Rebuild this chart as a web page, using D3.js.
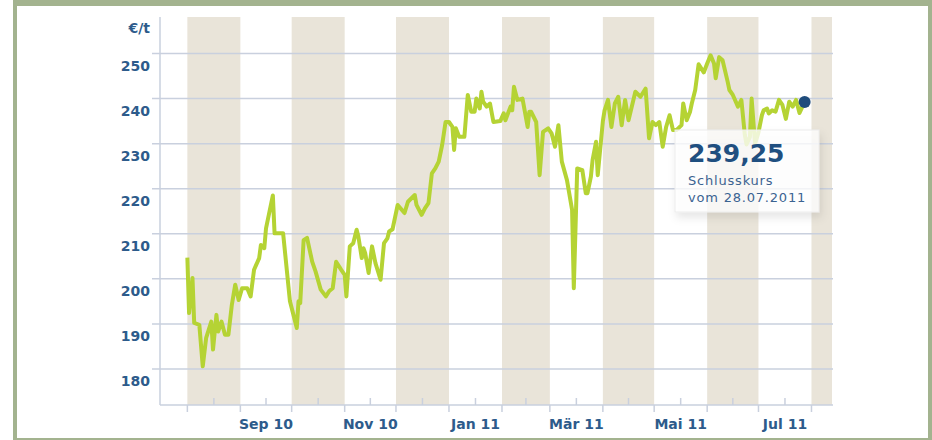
<!DOCTYPE html>
<html>
<head>
<meta charset="utf-8">
<script src="https://cdn.jsdelivr.net/npm/d3@7"></script>
<style>
  body { margin: 0; background: #fff; }
  svg { display: block; font-family: "DejaVu Sans", Verdana, sans-serif; }
</style>
</head>
<body>
<div id="chart"></div>
<script>
// closing prices
var dates = [
  "2010-08-01","2010-08-02","2010-08-04","2010-08-05","2010-08-08","2010-08-10","2010-08-12","2010-08-15",
  "2010-08-16","2010-08-18","2010-08-19","2010-08-21","2010-08-23","2010-08-25","2010-08-27","2010-08-29",
  "2010-08-31","2010-09-02","2010-09-05","2010-09-07","2010-09-09","2010-09-12","2010-09-13","2010-09-15",
  "2010-09-16","2010-09-20","2010-09-21","2010-09-26","2010-09-30","2010-10-04","2010-10-05","2010-10-06",
  "2010-10-08","2010-10-10","2010-10-13","2010-10-15","2010-10-18","2010-10-21","2010-10-23","2010-10-25",
  "2010-10-27","2010-10-30","2010-11-01","2010-11-02","2010-11-04","2010-11-06","2010-11-08","2010-11-09",
  "2010-11-11","2010-11-12","2010-11-13","2010-11-15","2010-11-17","2010-11-19","2010-11-22","2010-11-24",
  "2010-11-26","2010-11-27","2010-11-29","2010-12-02","2010-12-06","2010-12-08","2010-12-12","2010-12-13",
  "2010-12-16","2010-12-18","2010-12-20","2010-12-22","2010-12-24","2010-12-26","2010-12-28","2010-12-30",
  "2011-01-01","2011-01-03","2011-01-04","2011-01-05","2011-01-07","2011-01-10","2011-01-12","2011-01-14",
  "2011-01-16","2011-01-17","2011-01-19","2011-01-20","2011-01-21","2011-01-23","2011-01-25","2011-01-27",
  "2011-01-31","2011-02-02","2011-02-03","2011-02-06","2011-02-07","2011-02-08","2011-02-10","2011-02-13",
  "2011-02-16","2011-02-17","2011-02-18","2011-02-21","2011-02-23","2011-02-25","2011-02-28","2011-03-02",
  "2011-03-04","2011-03-06","2011-03-08","2011-03-11","2011-03-14","2011-03-15","2011-03-17","2011-03-20",
  "2011-03-22","2011-03-23","2011-03-25","2011-03-26","2011-03-28","2011-03-29","2011-04-01","2011-04-02",
  "2011-04-04","2011-04-06","2011-04-08","2011-04-10","2011-04-12","2011-04-14","2011-04-16","2011-04-20",
  "2011-04-23","2011-04-26","2011-04-28","2011-04-30","2011-05-02","2011-05-04","2011-05-06","2011-05-08",
  "2011-05-10","2011-05-12","2011-05-14","2011-05-17","2011-05-18","2011-05-20","2011-05-22","2011-05-23",
  "2011-05-25","2011-05-27","2011-05-30","2011-06-01","2011-06-03","2011-06-05","2011-06-06","2011-06-08",
  "2011-06-10","2011-06-13","2011-06-14","2011-06-16","2011-06-19","2011-06-21","2011-06-23","2011-06-24",
  "2011-06-26","2011-06-27","2011-06-29","2011-07-01","2011-07-03","2011-07-04","2011-07-06","2011-07-07",
  "2011-07-09","2011-07-11","2011-07-13","2011-07-15","2011-07-17","2011-07-19","2011-07-21","2011-07-23",
  "2011-07-25","2011-07-28"
];
var prices = [
  204.7,192.4,200.2,190.2,189.8,180.6,186.9,190.5,
  184.3,192.0,188.3,190.5,187.6,187.6,194.2,198.7,
  195.3,197.9,197.9,196.1,202.0,204.6,207.5,206.8,
  211.2,218.5,210.1,210.1,195.0,189.1,195.0,194.6,
  208.6,209.1,203.8,201.6,197.6,196.1,197.3,197.9,
  203.8,202.0,200.9,196.1,207.2,207.9,210.9,209.4,
  204.6,206.8,205.7,201.3,207.2,203.5,199.8,207.9,
  209.0,210.5,211.0,216.4,214.6,217.1,218.6,216.4,
  214.2,215.7,216.8,223.4,224.5,226.0,229.7,234.8,
  234.8,233.7,228.6,233.4,231.5,231.5,240.8,237.1,
  237.1,240.0,237.8,241.5,239.3,238.2,238.9,234.8,
  235.0,236.7,235.2,238.2,237.4,242.6,239.7,240.0,
  233.7,237.1,237.1,234.8,223.0,232.6,233.4,232.3,
  229.3,234.1,226.0,221.9,215.3,197.9,224.5,224.1,
  219.0,219.0,222.7,226.4,230.4,223.0,235.0,237.4,
  239.7,233.7,238.9,240.4,234.1,239.7,235.2,241.5,
  240.4,242.2,231.2,234.8,234.1,234.8,229.3,233.7,
  236.3,233.0,233.0,234.1,238.9,235.2,237.1,238.9,
  241.9,247.6,245.8,247.8,249.6,247.8,244.5,249.2,
  248.5,243.7,241.9,240.8,238.2,239.7,232.0,229.8,
  231.5,240.0,230.0,232.5,236.3,237.4,237.8,236.7,
  237.4,237.1,239.7,238.6,235.5,239.3,238.2,239.7,
  236.8,239.25
];

var yTicks = [180, 190, 200, 210, 220, 230, 240, 250];
var monthStarts = [
  "2010-08-01","2010-09-01","2010-10-01","2010-11-01","2010-12-01","2011-01-01",
  "2011-02-01","2011-03-01","2011-04-01","2011-05-01","2011-06-01","2011-07-01",
  "2011-08-01","2011-09-01"
];
var monthLabels = ["", "Sep 10", "", "Nov 10", "", "Jan 11", "", "Mär 11", "", "Mai 11", "", "Jul 11", "", ""];
var unit = "€/t";
var lastValue = "239,25";
var lastText = ["Schlusskurs", "vom 28.07.2011"];

var svgWidth = 932;
var svgHeight = 440;

var plot = { left: 160, right: 832, top: 17, bottom: 405 };

var parse = d3.utcParse("%Y-%m-%d");
var data = dates.map(function(d, i) { return { date: parse(d), value: prices[i] }; });
var months = monthStarts.map(parse);

var svg = d3.select("#chart")
  .append("svg")
  .attr("width", svgWidth)
  .attr("height", svgHeight);

var defs = svg.append("defs");
var shadow = defs.append("filter")
  .attr("id", "shadow")
  .attr("x", "-20%").attr("y", "-20%")
  .attr("width", "150%").attr("height", "160%");
shadow.append("feDropShadow")
  .attr("dx", 2).attr("dy", 5)
  .attr("stdDeviation", 4)
  .attr("flood-color", "#000")
  .attr("flood-opacity", 0.12);

// scales
var xScale = d3.scaleUtc()
  .domain([parse("2010-07-16"), parse("2011-08-13")])
  .range([plot.left, plot.right]);

var yScale = d3.scaleLinear()
  .domain([172, 258.1])
  .range([plot.bottom, plot.top]);

var gridColor = "#c9d0de";
var textColor = "#2d5b8b";

// alternating month bands
var bands = [];
for (var i = 0; i < months.length - 1; i += 2) {
  bands.push([months[i], months[i + 1]]);
}
svg.append("g")
  .selectAll("rect")
  .data(bands)
  .enter()
  .append("rect")
  .attr("x", d => xScale(d[0]))
  .attr("y", plot.top)
  .attr("width", d => Math.min(xScale(d[1]), plot.right) - xScale(d[0]))
  .attr("height", plot.bottom - plot.top)
  .attr("fill", "#e9e4d9");

// horizontal grid lines
svg.append("g")
  .selectAll("line")
  .data(yTicks)
  .enter()
  .append("line")
  .attr("x1", plot.left - 8)
  .attr("x2", plot.right + 1)
  .attr("y1", d => yScale(d))
  .attr("y2", d => yScale(d))
  .attr("stroke", gridColor)
  .attr("stroke-width", 1.5);

// y axis labels sit below their grid line
svg.append("g")
  .selectAll("text")
  .data(yTicks)
  .enter()
  .append("text")
  .attr("x", 150)
  .attr("y", d => yScale(d) + 17)
  .attr("text-anchor", "end")
  .attr("font-size", 14)
  .attr("font-weight", "bold")
  .attr("fill", textColor)
  .text(d => d);

svg.append("text")
  .attr("x", 150)
  .attr("y", 33)
  .attr("text-anchor", "end")
  .attr("font-size", 14)
  .attr("font-weight", "bold")
  .attr("fill", textColor)
  .text(unit);

// axis lines
svg.append("line")
  .attr("x1", plot.left).attr("x2", plot.left)
  .attr("y1", plot.top).attr("y2", plot.bottom)
  .attr("stroke", gridColor).attr("stroke-width", 1.5);
svg.append("line")
  .attr("x1", plot.left).attr("x2", plot.right + 1)
  .attr("y1", plot.bottom).attr("y2", plot.bottom)
  .attr("stroke", gridColor).attr("stroke-width", 1.5);

// month ticks below the axis, mid month ticks above it
var tickMonths = months.filter(m => xScale(m) <= plot.right);
svg.append("g")
  .selectAll("line")
  .data(tickMonths)
  .enter()
  .append("line")
  .attr("x1", d => xScale(d)).attr("x2", d => xScale(d))
  .attr("y1", plot.bottom).attr("y2", plot.bottom + 7)
  .attr("stroke", gridColor).attr("stroke-width", 1.5);

var midMonths = [];
for (var j = 0; j < months.length - 1; j++) {
  var mid = new Date((months[j].getTime() + months[j + 1].getTime()) / 2);
  if (xScale(mid) < plot.right) midMonths.push(mid);
}
svg.append("g")
  .selectAll("line")
  .data(midMonths)
  .enter()
  .append("line")
  .attr("x1", d => xScale(d)).attr("x2", d => xScale(d))
  .attr("y1", plot.bottom - 7).attr("y2", plot.bottom)
  .attr("stroke", gridColor).attr("stroke-width", 1.5);

// month labels, centred in their month
svg.append("g")
  .selectAll("text")
  .data(monthLabels.slice(0, months.length - 1))
  .enter()
  .append("text")
  .attr("x", (d, k) => (xScale(months[k]) + xScale(months[k + 1])) / 2)
  .attr("y", 429)
  .attr("text-anchor", "middle")
  .attr("font-size", 14)
  .attr("font-weight", "bold")
  .attr("fill", textColor)
  .text(d => d);

// price line
var line = d3.line()
  .x(d => xScale(d.date))
  .y(d => yScale(d.value));

svg.append("path")
  .datum(data)
  .attr("d", line)
  .attr("fill", "none")
  .attr("stroke", "#b5d334")
  .attr("stroke-width", 4)
  .attr("stroke-linejoin", "round");

// last close marker
var last = data[data.length - 1];
svg.append("circle")
  .attr("cx", xScale(last.date))
  .attr("cy", yScale(last.value))
  .attr("r", 6)
  .attr("fill", "#1f4c7c");

// tooltip box
var tip = svg.append("g").attr("transform", "translate(675, 130)");
tip.append("rect")
  .attr("width", 144)
  .attr("height", 82)
  .attr("fill", "#fff")
  .attr("fill-opacity", 0.78)
  .attr("stroke", "#ececec")
  .attr("filter", "url(#shadow)");
tip.append("text")
  .attr("x", 13)
  .attr("y", 32)
  .attr("font-size", 25)
  .attr("font-weight", "bold")
  .attr("fill", "#1f4f80")
  .text(lastValue);
tip.selectAll("text.sub")
  .data(lastText)
  .enter()
  .append("text")
  .attr("class", "sub")
  .attr("x", 13)
  .attr("y", (d, k) => 55 + k * 17)
  .attr("font-size", 13)
  .attr("letter-spacing", 0.8)
  .attr("fill", "#3b6391")
  .text(d => d);

// sage green frame
var frame = "#a3b38f";
svg.append("rect").attr("x", 13).attr("y", 0).attr("width", 919).attr("height", 6).attr("fill", frame);
svg.append("rect").attr("x", 13).attr("y", 0).attr("width", 4).attr("height", 440).attr("fill", frame);
svg.append("rect").attr("x", 928).attr("y", 0).attr("width", 4).attr("height", 440).attr("fill", frame);
svg.append("rect").attr("x", 13).attr("y", 438).attr("width", 919).attr("height", 2).attr("fill", frame);
</script>
</body>
</html>
